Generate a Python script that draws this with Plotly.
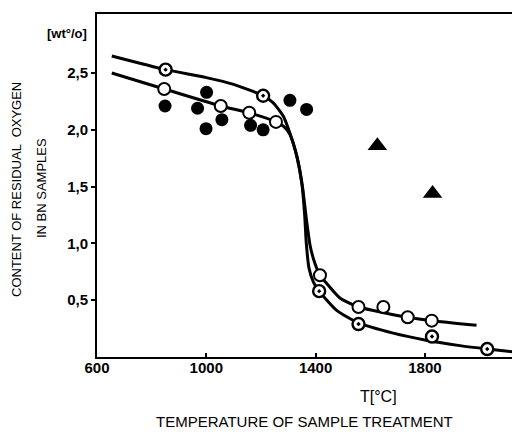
import plotly.graph_objects as go

# ---- data ----
# filled circles
filled_T = [849, 968, 1001, 999, 1057, 1162, 1208, 1306, 1367]
filled_O = [2.21, 2.19, 2.33, 2.01, 2.09, 2.04, 2.00, 2.26, 2.18]
# open circles
open_T = [846, 1053, 1157, 1255, 1416, 1557, 1648, 1737, 1825]
open_O = [2.36, 2.21, 2.15, 2.07, 0.72, 0.44, 0.44, 0.35, 0.32]
# dotted circles
dot_T = [851, 1208, 1413, 1557, 1826, 2028]
dot_O = [2.53, 2.30, 0.58, 0.29, 0.18, 0.07]
# triangles
tri_T = [1626, 1828]
tri_O = [1.86, 1.44]
# fitted curve through dotted circles
curveA_T = [654, 851, 1000, 1100, 1208, 1244, 1282, 1306, 1331, 1350, 1360, 1366, 1376, 1392, 1413, 1477, 1557, 1684, 1800, 1928, 2028, 2123]
curveA_O = [2.65, 2.53, 2.46, 2.40, 2.30, 2.24, 2.12, 1.97, 1.77, 1.52, 1.25, 1.00, 0.78, 0.66, 0.58, 0.41, 0.30, 0.21, 0.15, 0.10, 0.07, 0.045]
# fitted curve through open circles
curveB_T = [654, 846, 1053, 1157, 1255, 1283, 1306, 1331, 1352, 1366, 1380, 1398, 1416, 1440, 1489, 1557, 1650, 1737, 1825, 1989]
curveB_O = [2.50, 2.36, 2.21, 2.15, 2.07, 2.03, 1.96, 1.77, 1.50, 1.22, 0.98, 0.82, 0.72, 0.65, 0.52, 0.44, 0.39, 0.35, 0.32, 0.28]

y_ticks = [0.5, 1.0, 1.5, 2.0, 2.5]
y_tick_text = ["0,5", "1,0", "1,5", "2,0", "2,5"]
x_ticks = [600, 1000, 1400, 1800]
x_tick_text = ["600", "1000", "1400", "1800"]

# ---- layout geometry (pixels) ----
# the page body has an 8px margin, so the figure is drawn at (8, 8)
OFF = 8
W, H = 520 - OFF, 434 - OFF
ML, MR, MT, MB = 97 - OFF, 0, 14 - OFF, 434 - 357
PW, PH = W - ML - MR, H - MT - MB


def px(x):
    return (x - OFF - ML) / PW


def py(y):
    return (H - MB - (y - OFF)) / PH


fig = go.Figure()
line_style = dict(color="black", width=3, shape="spline", smoothing=0.6)
fig.add_trace(go.Scatter(x=curveA_T, y=curveA_O, mode="lines", line=line_style, hoverinfo="skip"))
fig.add_trace(go.Scatter(x=curveB_T, y=curveB_O, mode="lines", line=line_style, hoverinfo="skip"))
fig.add_trace(go.Scatter(x=filled_T, y=filled_O, mode="markers",
                         marker=dict(symbol="circle", size=13, color="black")))
fig.add_trace(go.Scatter(x=open_T, y=open_O, mode="markers",
                         marker=dict(symbol="circle", size=12, color="white",
                                     line=dict(color="black", width=2))))
fig.add_trace(go.Scatter(x=dot_T, y=dot_O, mode="markers",
                         marker=dict(symbol="circle-dot", size=12, color="white",
                                     line=dict(color="black", width=2.4))))
fig.add_trace(go.Scatter(x=tri_T, y=tri_O, mode="markers",
                         marker=dict(symbol="triangle-up", size=17, color="black")))

font_family = "Liberation Sans, Arial, sans-serif"


def note(text, x, y, size=13, angle=0):
    return dict(text=text, x=px(x), y=py(y), xref="paper", yref="paper",
                xanchor="center", yanchor="middle", showarrow=False, textangle=angle,
                font=dict(family=font_family, size=size, color="black"))


fig.update_layout(
    width=W, height=H,
    margin=dict(l=ML, r=MR, t=MT, b=MB, pad=0, autoexpand=False),
    paper_bgcolor="white", plot_bgcolor="white",
    showlegend=False,
    font=dict(family=font_family, color="black"),
    xaxis=dict(range=[600, 2148], tickvals=x_ticks,
               ticktext=["<b>%s</b>" % t for t in x_tick_text],
               showgrid=False, zeroline=False, showline=True, linecolor="black",
               linewidth=2, mirror=True, ticks="inside", ticklen=4, tickwidth=1.5,
               tickcolor="black", automargin=False, ticklabelstandoff=-4,
               tickfont=dict(size=15, family=font_family)),
    yaxis=dict(range=[0, 3.02], tickvals=y_ticks,
               ticktext=["<b>%s</b>" % t for t in y_tick_text],
               showgrid=False, zeroline=False, showline=True, linecolor="black",
               linewidth=2, ticks="outside", ticklen=4, tickwidth=1.5,
               tickcolor="black", automargin=False,
               tickfont=dict(size=15, family=font_family)),
    annotations=[
        note("<b>[wt°/o]</b>", 67, 34, 13),
        note("CONTENT OF RESIDUAL  OXYGEN", 16, 190, 13, -90),
        note("IN BN SAMPLES", 41, 188, 13, -90),
        note("T[°C]", 378, 396, 16),
        note("TEMPERATURE OF SAMPLE TREATMENT", 304, 421, 15),
    ],
)

fig.write_html("out.html")
